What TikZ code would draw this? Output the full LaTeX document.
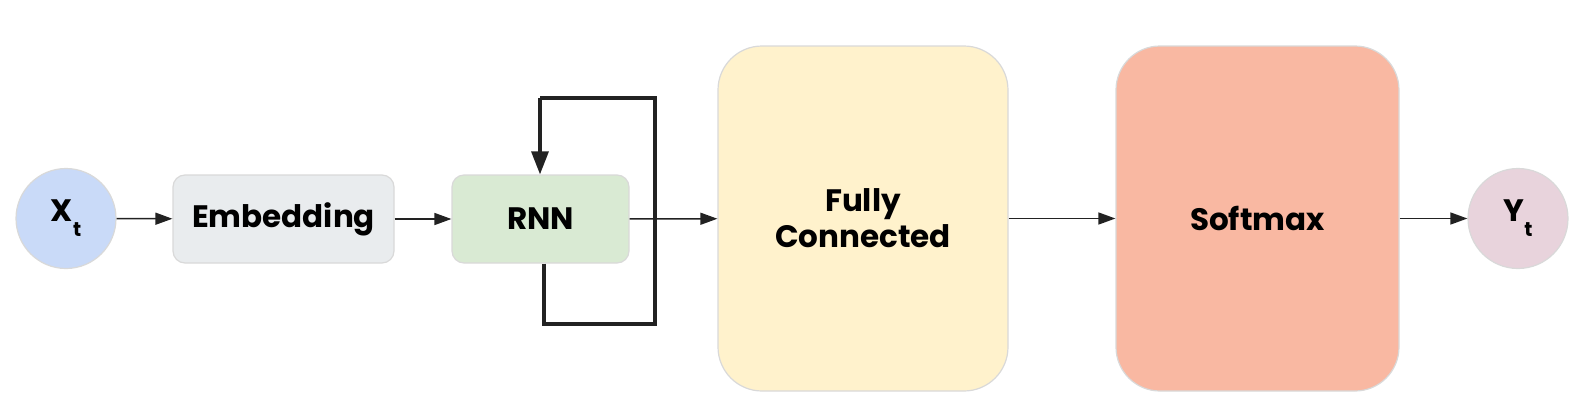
\documentclass[tikz,border=0pt]{standalone}
\usepackage{fontspec}
\setmainfont{Poppins}
\usepackage{xcolor}
\usetikzlibrary{arrows.meta, calc, positioning}
\definecolor{inblue}{HTML}{C9DAF8}
\definecolor{embgray}{HTML}{E9ECEE}
\definecolor{rnngreen}{HTML}{D9EAD3}
\definecolor{fcyellow}{HTML}{FFF2CC}
\definecolor{smsalmon}{HTML}{F9B8A2}
\definecolor{outpink}{HTML}{E8D3DC}
\definecolor{edgegray}{HTML}{D9D9D9}
\definecolor{linedark}{HTML}{222222}

\begin{document}
\begin{tikzpicture}[x=0.5pt, y=-0.5pt,
    every node/.style={font=\fontsize{15.5}{18}\selectfont\bfseries},
    token/.style={circle, draw=edgegray, line width=0.6pt, minimum size=50pt, inner sep=0pt},
    layer/.style={rectangle, rounded corners=6pt, draw=edgegray, line width=0.6pt, minimum width=#1, minimum height=44pt, inner sep=0pt},
    bigblock/.style={rectangle, rounded corners=22pt, draw=edgegray, line width=0.6pt, minimum width=#1, minimum height=172.5pt, align=center, inner sep=0pt},
    arr/.style={-{Triangle[length=8.5pt, width=6pt]}, line width=0.75pt, linedark},
    loopline/.style={line width=1.6pt, linedark},
    looparr/.style={-{Triangle[length=11.5pt, width=8.5pt]}, line width=1.6pt, linedark}]
    \useasboundingbox (0,0) rectangle (1592,418);

    % Input and output tokens
    \node[token, fill=inblue] (xt) at (66,218.5) {X\raisebox{-7.5pt}{\fontsize{10}{12}\selectfont t}};
    \node[token, fill=outpink] (yt) at (1518,218.5) {Y\raisebox{-7.5pt}{\fontsize{10}{12}\selectfont t}};

    % Layers
    \node[layer=110.5pt, fill=embgray] (emb) at (283.5,219) {Embedding};
    \node[layer=88.5pt, fill=rnngreen] (rnn) at (540.5,219) {RNN};
    \node[bigblock=145pt, fill=fcyellow] (fc) at (863,218.5) {Fully\\Connected};
    \node[bigblock=141.5pt, fill=smsalmon] (sm) at (1257.5,218.5) {Softmax};

    % Forward connections
    \draw[arr] (xt) -- (emb);
    \draw[arr] (emb) -- (rnn);
    \draw[arr] (rnn) -- (fc);
    \draw[arr] (fc) -- (sm);
    \draw[arr] (sm) -- (yt);

    % Recurrent loop
    \coordinate (loopbl) at (544,324);
    \coordinate (looptr) at (655,98);
    \coordinate (looptl) at (540,98);
    \draw[loopline] (loopbl |- rnn.south) -- (loopbl) -| (looptr) -- (looptl);
    \draw[looparr] (looptl) -- (looptl |- rnn.north);
\end{tikzpicture}
\end{document}
